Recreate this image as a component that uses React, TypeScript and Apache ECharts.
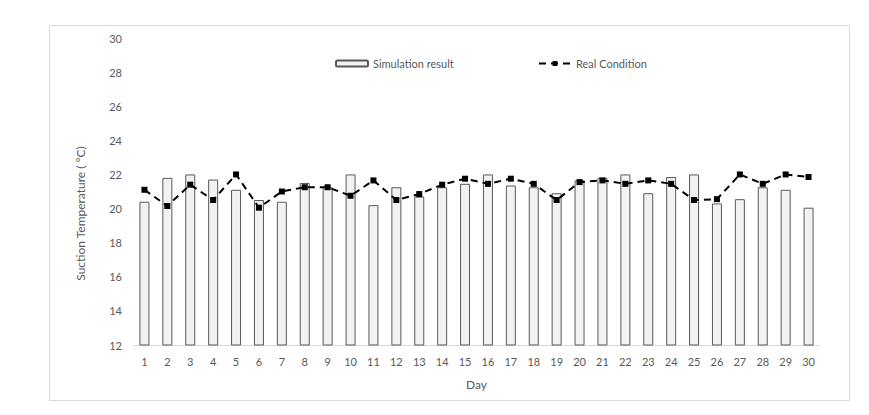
import React, { useEffect, useRef } from "react";
import * as echarts from "echarts";

const days = Array.from({ length: 30 }, (_, i) => String(i + 1));
const simulation = [
  20.4, 21.8, 22.0, 21.7, 21.1, 20.5, 20.4, 21.5, 21.25, 22.0,
  20.2, 21.25, 20.7, 21.25, 21.45, 22.0, 21.35, 21.25, 20.9, 21.65,
  21.8, 22.0, 20.9, 21.85, 22.0, 20.3, 20.55, 21.25, 21.1, 20.05,
];
const real = [
  21.1, 20.15, 21.4, 20.5, 22.0, 20.05, 21.0, 21.25, 21.25, 20.75,
  21.65, 20.5, 20.85, 21.4, 21.75, 21.45, 21.75, 21.45, 20.5, 21.55,
  21.65, 21.45, 21.65, 21.45, 20.5, 20.55, 22.0, 21.45, 22.0, 21.85,
];

const FONT = "Lato, 'Liberation Sans', sans-serif";
const TXT = "#595959";

export default function App() {
  const ref = useRef<HTMLDivElement>(null);
  useEffect(() => {
    document.body.style.margin = "0";
    const chart = echarts.init(ref.current!, null, { renderer: "svg" });
    chart.setOption({
      animation: false,
      textStyle: { fontFamily: FONT },
      graphic: [
        {
          type: "rect",
          shape: { x: 49.5, y: 25.5, width: 800, height: 375 },
          style: { fill: "none", stroke: "#d9d9d9", lineWidth: 1 },
          silent: true,
        },
      ],
      legend: [
        {
          data: ["Simulation result"],
          left: 330,
          top: 53,
          itemWidth: 32,
          itemHeight: 6,
          itemGap: 6,
          textStyle: { color: TXT, fontSize: 11, fontFamily: FONT },
        },
        {
          data: ["Real Condition"],
          left: 533,
          top: 53,
          itemWidth: 32,
          itemHeight: 6,
          itemGap: 6,
          textStyle: { color: TXT, fontSize: 11, fontFamily: FONT },
        },
      ],
      grid: { left: 133, right: 49, top: 38, bottom: 70 },
      xAxis: {
        type: "category",
        data: days,
        name: "Day",
        nameLocation: "middle",
        nameGap: 33,
        nameTextStyle: { color: TXT, fontSize: 12, fontFamily: FONT },
        axisLine: { lineStyle: { color: "#d9d9d9" } },
        axisTick: { show: false },
        axisLabel: { color: TXT, fontSize: 11, margin: 11, fontFamily: FONT },
      },
      yAxis: {
        type: "value",
        min: 12,
        max: 30,
        interval: 2,
        name: "Suction Temperature ( °C)",
        nameLocation: "middle",
        nameGap: 47,
        nameTextStyle: {
          color: TXT,
          fontSize: 12,
          fontFamily: FONT,
          padding: [0, 44, 0, 0],
        },
        axisLine: { show: false },
        axisTick: { show: false },
        splitLine: { show: false },
        axisLabel: { color: TXT, fontSize: 11, margin: 11, fontFamily: FONT },
      },
      series: [
        {
          name: "Simulation result",
          type: "bar",
          data: simulation,
          barWidth: 10,
          itemStyle: { color: "#f2f2f2", borderColor: "#595959", borderWidth: 1 },
        },
        {
          name: "Real Condition",
          type: "line",
          data: real,
          symbol: "rect",
          symbolSize: 6,
          itemStyle: { color: "#000000" },
          lineStyle: { color: "#000000", width: 2, type: [7, 5] },
        },
      ],
    });
    return () => chart.dispose();
  }, []);
  return <div ref={ref} style={{ width: 869, height: 415 }} />;
}
